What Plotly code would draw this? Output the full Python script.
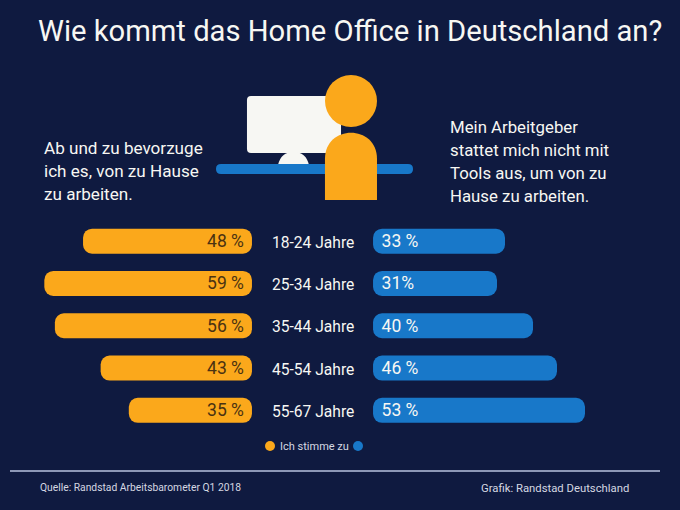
import plotly.graph_objects as go

W = 680
H = 510
BG = '#0f1a40'
ORANGE = '#fba81b'
BLUE = '#1878c9'
WHITE = '#f7f7f3'
FONT = 'Roboto'
TEXT_INSET = 1.4
# a bar whose base is not exactly 0 gets rounded corners on both ends
BAR_BASE = 0.01

age_groups = ['18-24 Jahre', '25-34 Jahre', '35-44 Jahre', '45-54 Jahre', '55-67 Jahre']
prefer_home = [48, 59, 56, 43, 35]
no_tools = [33, 31, 40, 46, 53]
prefer_labels = ['48 %', '59 %', '56 %', '43 %', '35 %']
no_tools_labels = ['33 %', '31%', '40 %', '46 %', '53 %']
left_lines = ['Ab und zu bevorzuge', 'ich es, von zu Hause', 'zu arbeiten.']
right_lines = ['Mein Arbeitgeber', 'stattet mich nicht mit', 'Tools aus, um von zu', 'Hause zu arbeiten.']


def px(x):
    return x / W


def py(y):
    return 1 - y / H


def path_xy(x, y):
    return f'{px(x):.4f},{py(y):.4f}'


def round_rect(x0, y0, x1, y1, r, color):
    d = (f'M{path_xy(x0 + r, y0)} L{path_xy(x1 - r, y0)} '
         f'Q{path_xy(x1, y0)} {path_xy(x1, y0 + r)} L{path_xy(x1, y1 - r)} '
         f'Q{path_xy(x1, y1)} {path_xy(x1 - r, y1)} L{path_xy(x0 + r, y1)} '
         f'Q{path_xy(x0, y1)} {path_xy(x0, y1 - r)} L{path_xy(x0, y0 + r)} '
         f'Q{path_xy(x0, y0)} {path_xy(x0 + r, y0)} Z')
    return dict(type='path', xref='paper', yref='paper', path=d,
                fillcolor=color, line_width=0)


def circle(cx, cy, r, color):
    return dict(type='circle', xref='paper', yref='paper',
                x0=px(cx - r), x1=px(cx + r), y0=py(cy + r), y1=py(cy - r),
                fillcolor=color, line_width=0)


def text(x, y, s, size, color=WHITE, anchor='left'):
    return dict(xref='paper', yref='paper', x=px(x), y=py(y), text=s, showarrow=False,
                xanchor=anchor, yanchor='middle', align=anchor,
                font=dict(family=FONT, size=size, color=color))


def add_pill(fig, values, labels, color, text_color, xaxis):
    fig.add_trace(go.Bar(y=age_groups, x=[v - BAR_BASE for v in values], base=BAR_BASE,
                         orientation='h', xaxis=xaxis, yaxis='y', showlegend=False,
                         marker=dict(color=color, line_width=0, cornerradius=9)))
    # see-through bar that only carries the label
    fig.add_trace(go.Bar(y=age_groups, x=[v - TEXT_INSET for v in values], base=TEXT_INSET,
                         orientation='h', xaxis=xaxis, yaxis='y', showlegend=False,
                         marker=dict(color='rgba(0,0,0,0)', line_width=0),
                         text=labels, textposition='inside', insidetextanchor='start',
                         textangle=0, constraintext='none',
                         insidetextfont=dict(family=FONT, size=17.5, color=text_color)))


fig = go.Figure()
add_pill(fig, prefer_home, prefer_labels, ORANGE, '#4a3212', 'x')
add_pill(fig, no_tools, no_tools_labels, BLUE, WHITE, 'x2')

annotations = [
    text(350, 31, 'Wie kommt das Home Office in Deutschland an?', 29.2, anchor='center'),
    text(314.5, 446, 'Ich stimme zu', 11, color='#d5d8e2', anchor='center'),
    text(38, 487, 'Quelle: Randstad Arbeitsbarometer Q1 2018', 10.3, color='#d5d8e2'),
    text(631, 488, 'Grafik: Randstad Deutschland', 11.3, color='#d5d8e2', anchor='right'),
]
for i, line in enumerate(left_lines):
    annotations.append(text(42, 148 + 23 * i, line, 17.1))
for i, line in enumerate(right_lines):
    annotations.append(text(448, 127 + 23 * i, line, 16.8))
for group in age_groups:
    annotations.append(dict(xref='paper', yref='y', x=px(313), y=group, text=group,
                            showarrow=False, xanchor='center', yanchor='middle', yshift=-1.5,
                            font=dict(family=FONT, size=15.6, color=WHITE)))

shapes = [
    round_rect(247, 96, 341, 153, 4, WHITE),
    dict(type='path', xref='paper', yref='paper', fillcolor=WHITE, line_width=0,
         path=f'M{path_xy(278, 165)} Q{path_xy(281, 152)} {path_xy(293.5, 152)} '
              f'Q{path_xy(306, 152)} {path_xy(309, 165)} Z'),
    round_rect(216, 164, 413, 174, 5, BLUE),
    circle(351, 101, 26, ORANGE),
    dict(type='path', xref='paper', yref='paper', fillcolor=ORANGE, line_width=0,
         path=f'M{path_xy(325, 200)} L{path_xy(325, 159)} '
              f'C{path_xy(325, 124)} {path_xy(377, 124)} {path_xy(377, 159)} '
              f'L{path_xy(377, 200)} Z'),
    circle(270, 446, 5, ORANGE),
    circle(358, 446, 5, BLUE),
    dict(type='line', xref='paper', yref='paper', x0=px(10), x1=px(660), y0=py(471), y1=py(471),
         line=dict(color='#b9c3df', width=1.3)),
]

fig.update_layout(
    width=W,
    height=H,
    margin=dict(l=0, r=0, t=0, b=0),
    paper_bgcolor=BG,
    plot_bgcolor=BG,
    barmode='overlay',
    bargap=0.41,
    showlegend=False,
    xaxis=dict(domain=[0, px(252)], range=[252 / 3.52, 0], visible=False),
    xaxis2=dict(domain=[px(373), 1], range=[0, 307 / 4.0], visible=False, anchor='y'),
    yaxis=dict(domain=[py(431.5), py(220)], autorange='reversed', visible=False),
    annotations=annotations,
    shapes=shapes,
)

fig.write_html('out.html', config={'displayModeBar': False},
               post_script="document.body.style.margin='0';")
